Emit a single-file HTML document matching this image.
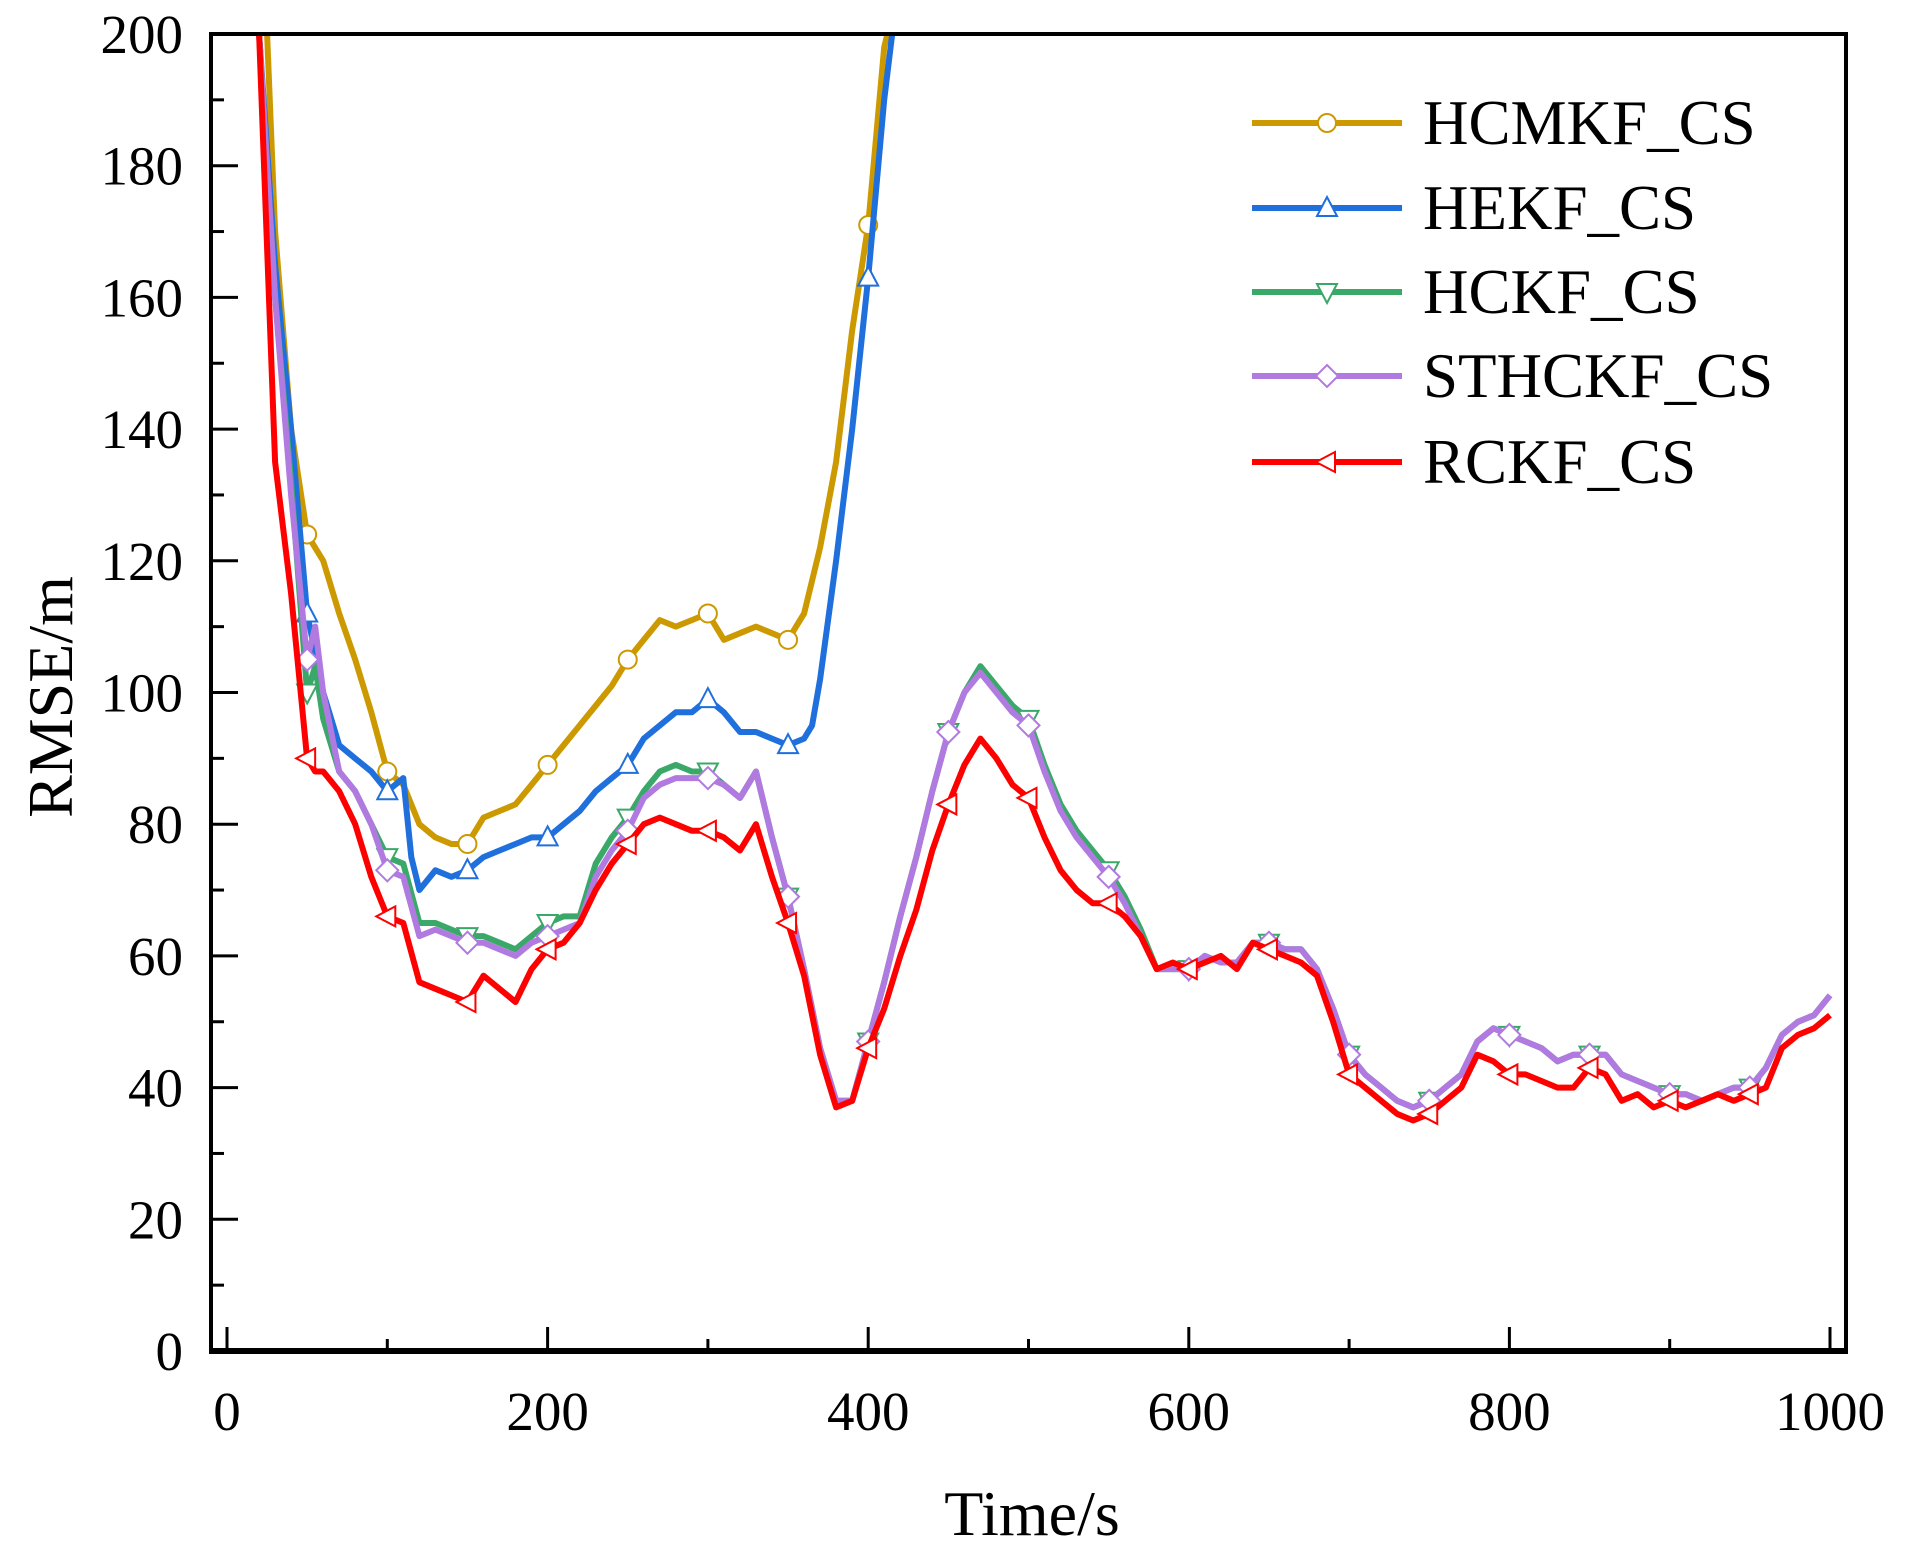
<!DOCTYPE html>
<html><head><meta charset="utf-8"><style>
html,body{margin:0;padding:0;background:#fff;width:1906px;height:1551px;overflow:hidden}
svg text{font-family:"Liberation Serif",serif;fill:#000}
</style></head><body>
<svg id="chart" width="1906" height="1551" viewBox="0 0 1906 1551" xmlns="http://www.w3.org/2000/svg">
<defs><clipPath id="plotclip"><rect x="211" y="34" width="1635" height="1317"/></clipPath></defs>
<g id="series" clip-path="url(#plotclip)"></g>
<g id="axes"></g>
<g id="legend"></g>
<text x="1032" y="1535" font-size="64" text-anchor="middle">Time/s</text>
<text x="0" y="0" font-size="64" text-anchor="middle" transform="translate(72,697) rotate(-90)">RMSE/m</text>
</svg>
<script>
const seriesNames = ["HCMKF_CS","HEKF_CS","HCKF_CS","STHCKF_CS","RCKF_CS"];
const seriesColors = ["#cc9900","#1f6fdc","#3aa868","#b07ae0","#ff0000"];
const xTickLabels = [0,200,400,600,800,1000];
const yTickLabels = [0,20,40,60,80,100,120,140,160,180,200];
const hcmkfT = [25,30,40,50,60,70,80,90,100,110,120,130,140,150,160,170,180,190,200,210,220,230,240,250,260,270,280,290,300,310,320,330,340,350,360,370,380,390,400,410,412];
const hcmkfV = [200,170,140,124,120,112,105,97,88,86,80,78,77,77,81,82,83,86,89,92,95,98,101,105,108,111,110,111,112,108,109,110,109,108,112,122,135,155,171,198,200];
const hekfT = [20,30,40,50,60,70,80,90,100,110,115,120,130,140,150,160,170,180,190,200,210,220,230,240,250,260,270,280,290,300,310,320,330,340,350,360,365,370,380,390,400,410,415];
const hekfV = [200,165,140,112,100,92,90,88,85,87,75,70,73,72,73,75,76,77,78,78,80,82,85,87,89,93,95,97,97,99,97,94,94,93,92,93,95,102,120,140,163,190,200];
const commonT = [20,30,40,50,55,60,70,80,90,100,110,120,130,140,150,160,170,180,190,200,210,220,230,240,250,260,270,280,290,300,310,320,330,340,350,360,370,380,390,400,410,420,430,440,450,460,470,480,490,500,510,520,530,540,550,560,570,580,590,600,610,620,630,640,650,660,670,680,690,700,710,720,730,740,750,760,770,780,790,800,810,820,830,840,850,860,870,880,890,900,910,920,930,940,950,960,970,980,990,1000];
const hckfV = [200,160,132,100,104,96,88,85,80,75,74,65,65,64,63,63,62,61,63,65,66,66,74,78,81,85,88,89,88,88,86,84,88,78,69,58,46,38,38,47,56,66,75,85,94,100,104,101,98,96,89,83,79,76,73,69,64,58,58,58,60,59,59,62,62,61,61,58,52,45,42,40,38,37,38,40,42,47,49,48,47,46,44,45,45,45,42,41,40,39,39,38,39,40,40,43,48,50,51,54];
const sthckfV = [200,160,130,105,110,100,88,85,80,73,72,63,64,63,62,62,61,60,62,63,64,65,72,76,79,84,86,87,87,87,86,84,88,78,69,58,46,38,38,47,56,66,75,85,94,100,103,100,97,95,88,82,78,75,72,68,63,58,58,58,60,59,59,62,62,61,61,58,52,45,42,40,38,37,38,40,42,47,49,48,47,46,44,45,45,45,42,41,40,39,39,38,39,40,40,43,48,50,51,54];
const rckfV = [200,135,115,90,88,88,85,80,72,66,65,56,55,54,53,57,55,53,58,61,62,65,70,74,77,80,81,80,79,79,78,76,80,72,65,57,45,37,38,46,52,60,67,76,83,89,93,90,86,84,78,73,70,68,68,66,63,58,59,58,59,60,58,62,61,60,59,57,50,42,40,38,36,35,36,38,40,45,44,42,42,41,40,40,43,42,38,39,37,38,37,38,39,38,39,40,46,48,49,51];
const seriesT = [hcmkfT,hekfT,commonT,commonT,commonT];
const seriesV = [hcmkfV,hekfV,hckfV,sthckfV,rckfV];
const markerT = [50,100,150,200,250,300,350,400,450,500,550,600,650,700,750,800,850,900,950];
const markerShapes = ["circle","up","down","diamond","left"];

const NS="http://www.w3.org/2000/svg";
const X0=227, X1=1830, Y0=1351, Y1=34;
function xs(t){return X0+(X1-X0)*t/1000;}
function ys(v){return Y0-(Y0-Y1)*v/200;}
function mk(tag,attrs,parent){const e=document.createElementNS(NS,tag);for(const k in attrs)e.setAttribute(k,attrs[k]);parent.appendChild(e);return e;}
function interp(T,V,t){if(t<T[0]||t>T[T.length-1])return null;for(let i=1;i<T.length;i++){if(t<=T[i]){const f=(t-T[i-1])/(T[i]-T[i-1]);return V[i-1]+f*(V[i]-V[i-1]);}}return null;}
function marker(shape,cx,cy,color,parent){
  const r=10;let e;
  if(shape==="circle"){e=mk("circle",{cx:cx,cy:cy,r:r-1},parent);}
  else{let p;
    if(shape==="up")p=[[cx,cy-r-1],[cx+r,cy+r-2],[cx-r,cy+r-2]];
    else if(shape==="down")p=[[cx,cy+r+1],[cx+r,cy-r+2],[cx-r,cy-r+2]];
    else if(shape==="diamond")p=[[cx,cy-r-1],[cx+r+1,cy],[cx,cy+r+1],[cx-r-1,cy]];
    else p=[[cx-r-1,cy],[cx+r-2,cy-r],[cx+r-2,cy+r]];
    e=mk("polygon",{points:p.map(q=>q.join(",")).join(" ")},parent);}
  e.setAttribute("fill","#fff");e.setAttribute("stroke",color);e.setAttribute("stroke-width","2");
  return e;
}
const sg=document.getElementById("series");
for(let s=0;s<seriesNames.length;s++){
  const T=seriesT[s],V=seriesV[s];
  const d=T.map((t,i)=>(i?"L":"M")+xs(t).toFixed(1)+","+ys(V[i]).toFixed(1)).join(" ");
  const p=mk("path",{d:d,fill:"none",stroke:seriesColors[s],"stroke-width":6,"stroke-linejoin":"round"},sg);
  
  
  for(const t of markerT){const v=interp(T,V,t);if(v===null||v>200)continue;
    const m=marker(markerShapes[s],xs(t),ys(v),seriesColors[s],sg);
    
    }
}
const ag=document.getElementById("axes");
mk("rect",{x:211,y:34,width:1635,height:1317,fill:"none",stroke:"#000","stroke-width":4},ag);
mk("line",{x1:209,y1:1351,x2:1848,y2:1351,stroke:"#000","stroke-width":6},ag);
for(let t=0;t<=1000;t+=100){const major=t%200===0;
  const l=mk("line",{x1:xs(t),x2:xs(t),y1:1351,y2:major?1327:1339,stroke:"#000","stroke-width":3},ag);
  
  }
xTickLabels.forEach(v=>{const tx=mk("text",{x:xs(v),y:1430,"font-size":55,"text-anchor":"middle"},ag);tx.textContent=v;
  
  });
for(let v=0;v<=200;v+=10){const major=v%20===0;
  const l=mk("line",{x1:211,x2:major?238:224,y1:ys(v),y2:ys(v),stroke:"#000","stroke-width":3},ag);
  
  }
yTickLabels.forEach(v=>{const tx=mk("text",{x:183,y:ys(v)+19,"font-size":55,"text-anchor":"end"},ag);tx.textContent=v;
  
  });
const lg=document.getElementById("legend");
const legY=[123,208,292,376,462];
for(let s=0;s<seriesNames.length;s++){
  const g=mk("g",{},lg);
  
  
  mk("line",{x1:1252,x2:1402,y1:legY[s],y2:legY[s],stroke:seriesColors[s],"stroke-width":6},g);
  marker(markerShapes[s],1327,legY[s],seriesColors[s],g);
  const tx=mk("text",{x:1423,y:legY[s]+21,"font-size":63},g);tx.textContent=seriesNames[s];
}
</script>
</body></html>
